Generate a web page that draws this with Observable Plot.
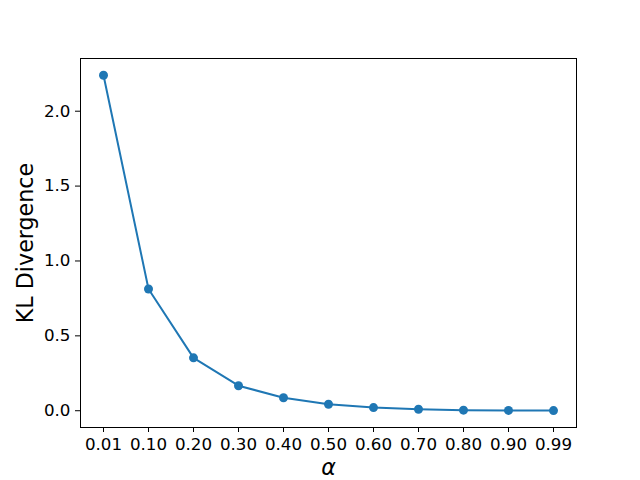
<!DOCTYPE html>
<html>
<head>
<meta charset="utf-8">
<script src="https://cdn.jsdelivr.net/npm/d3@7"></script>
<script src="https://cdn.jsdelivr.net/npm/@observablehq/plot@0.6"></script>
<style>
html, body { margin: 0; padding: 0; background: #fff; }
</style>
</head>
<body>
<div id="chart"></div>
<script>
const alphas = ["0.01", "0.10", "0.20", "0.30", "0.40", "0.50", "0.60", "0.70", "0.80", "0.90", "0.99"];
const klValues = [2.24, 0.813, 0.353, 0.167, 0.087, 0.043, 0.021, 0.010, 0.004, 0.002, 0.001];
const yTicks = [0, 0.5, 1.0, 1.5, 2.0];

const data = alphas.map((a, i) => ({alpha: a, kl: klValues[i]}));
const color = "#1f77b4";

const chart = Plot.plot({
  width: 640,
  height: 480,
  marginLeft: 80,
  marginRight: 64,
  marginTop: 58,
  marginBottom: 53,
  style: {fontFamily: "DejaVu Sans", fontSize: "16.7px", background: "#fff", color: "#000"},
  x: {type: "point", domain: alphas, padding: 0.5},
  y: {domain: [-0.112, 2.352]},
  marks: [
    Plot.frame({stroke: "#000", strokeWidth: 1}),
    Plot.axisX({tickSize: 5, tickPadding: 6, fontSize: 16.7, label: null, stroke: "#000", strokeWidth: 1}),
    Plot.axisY({ticks: yTicks, tickFormat: d3.format(".1f"), tickSize: 5, tickPadding: 5, fontSize: 16.7, label: null, stroke: "#000", strokeWidth: 1}),
    Plot.line(data, {x: "alpha", y: "kl", stroke: color, strokeWidth: 2}),
    Plot.dot(data, {x: "alpha", y: "kl", fill: color, r: 4.5}),
    Plot.text(["KL Divergence"], {frameAnchor: "left", textAnchor: "middle", dx: -55, rotate: -90, fontSize: 22.2, fill: "#000"}),
    Plot.text(["α"], {frameAnchor: "bottom", textAnchor: "middle", dy: 47, fontSize: 22.2, fontStyle: "italic", fill: "#000"})
  ]
});
document.getElementById("chart").appendChild(chart);
</script>
</body>
</html>
